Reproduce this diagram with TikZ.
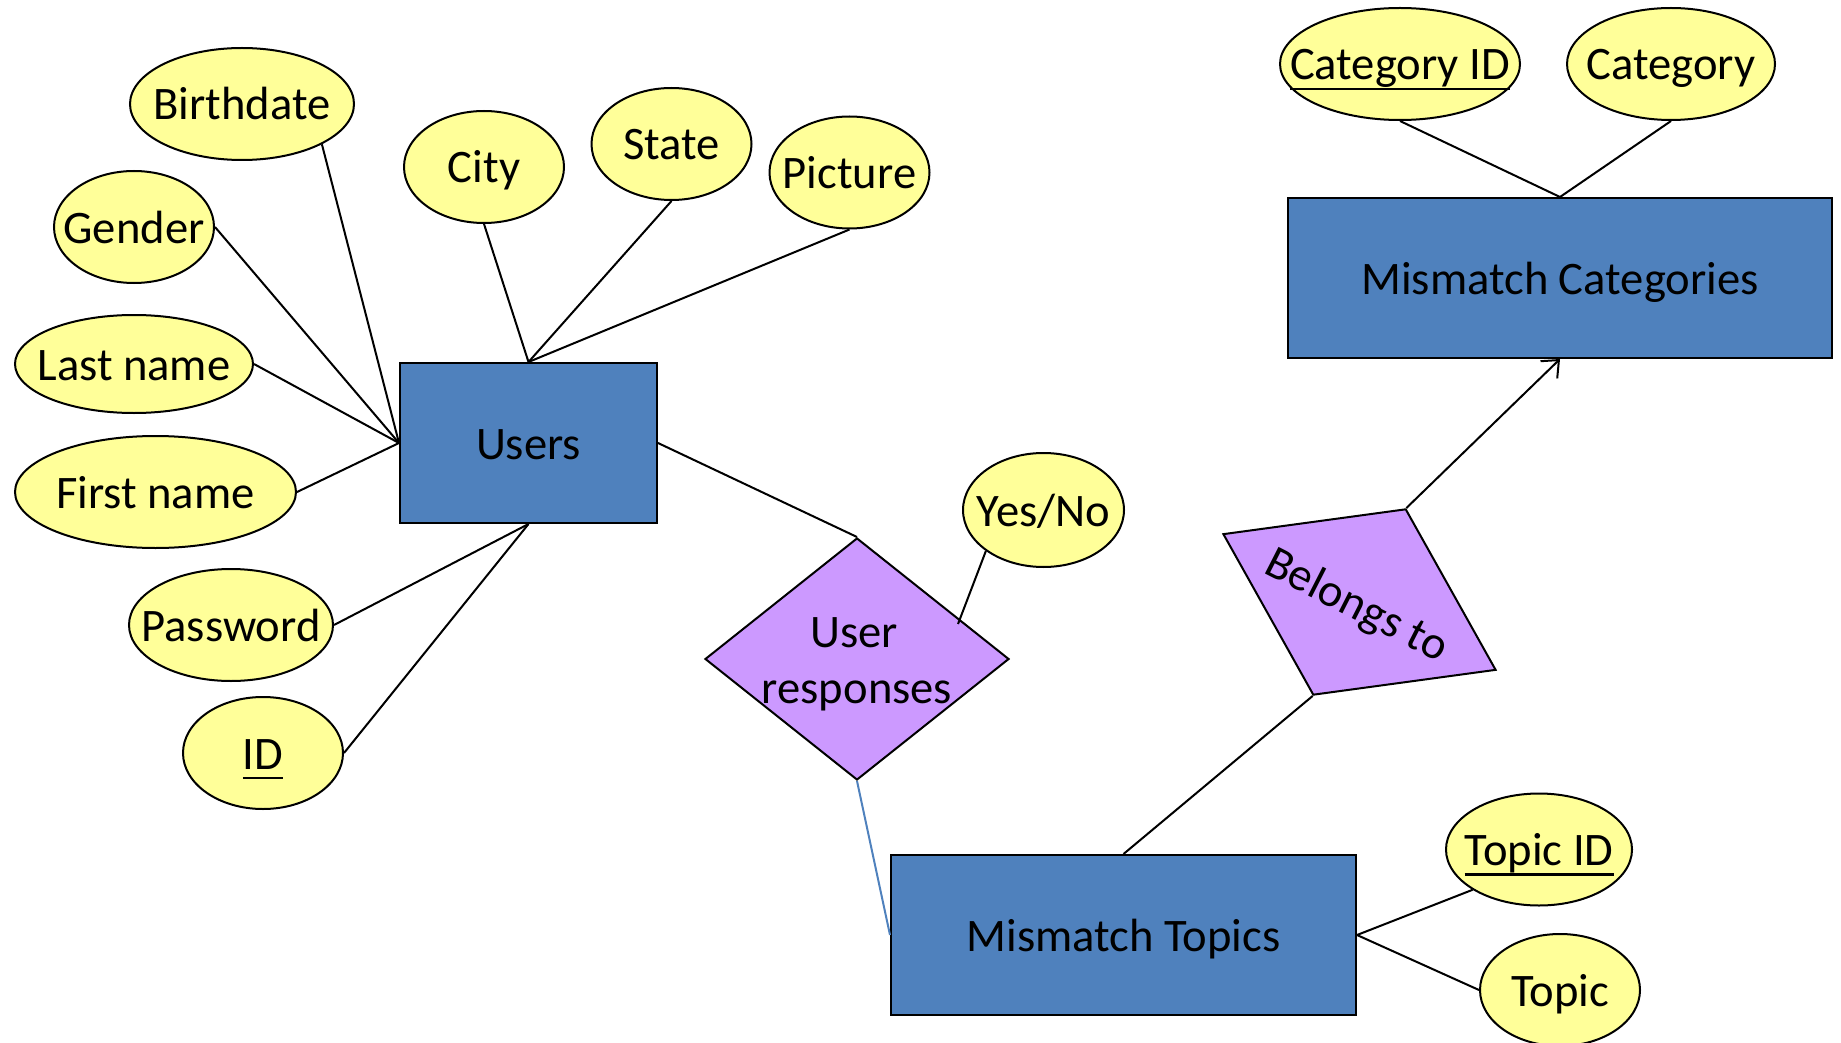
\documentclass[tikz,border=0pt]{standalone}
\usepackage{fontspec}
\setmainfont{Carlito}
\usetikzlibrary{shapes.geometric,arrows.meta}
\definecolor{entBlue}{HTML}{4F81BD}
\definecolor{attrYel}{HTML}{FFFF99}
\definecolor{relPur}{HTML}{CC99FF}
\newcommand{\ztx}[1]{\makebox[0pt]{#1}}
\newcommand{\uln}[1]{\setbox0\hbox{#1}\rlap{\rule[-5.2pt]{\wd0}{1.3pt}}\box0}
\begin{document}
\begin{tikzpicture}[x=0.5pt,y=-0.5pt,
  every node/.style={font=\fontsize{23.3}{28.3}\selectfont, inner sep=0pt, text height=16pt, text depth=0pt},
  attr/.style={ellipse, draw=black, fill=attrYel, line width=1pt},
  ent/.style={rectangle, draw=black, fill=entBlue, line width=1pt},
  rel/.style={diamond, draw=black, fill=relPur, line width=1pt},
  conn/.style={line width=1pt, draw=black},
  bluelink/.style={line width=1pt, draw=entBlue}
]
\useasboundingbox (0,0) rectangle (1841,1043);

% entities
\node[ent, minimum width=128.5pt, minimum height=80pt] (users) at (528.5,443) {Users};
\node[ent, minimum width=232.5pt, minimum height=80pt] (mt) at (1123.5,935) {Mismatch Topics};
\node[ent, minimum width=272pt, minimum height=80pt] (mc) at (1560,278) {Mismatch Categories};

% relationships
\node[rel, minimum width=152pt, minimum height=121pt] (ur) at (857,659) {};
\node[anchor=base] (urt1) at (854,647) {User};
\node[anchor=base] (urt2) at (857,703) {responses};
\node[rel, minimum width=152.5pt, minimum height=104pt, rotate=-26.5] (bel) at (1359.5,602) {};
\node[rotate=-27] (belt) at (1358,603) {Belongs to};

% attributes
\node[attr, minimum width=112pt, minimum height=56pt] (birth) at (242,104) {\ztx{Birthdate}};
\node[attr, minimum width=80pt, minimum height=56pt] (gender) at (134,227) {\ztx{Gender}};
\node[attr, minimum width=119pt, minimum height=49pt] (last) at (134,364) {\ztx{Last name}};
\node[attr, minimum width=140.5pt, minimum height=56pt] (first) at (155.5,492) {\ztx{First name}};
\node[attr, minimum width=102pt, minimum height=56pt] (pwd) at (231,625) {\ztx{Password}};
\node[attr, minimum width=80pt, minimum height=56pt] (id) at (263,753) {\ztx{\uln{ID}}};
\node[attr, minimum width=80pt, minimum height=56pt] (city) at (484,167) {\ztx{City}};
\node[attr, minimum width=80pt, minimum height=56pt] (state) at (671.5,144) {\ztx{State}};
\node[attr, minimum width=80pt, minimum height=56pt] (pic) at (849.5,172.5) {\ztx{Picture}};
\node[attr, minimum width=120pt, minimum height=56pt] (catid) at (1400,64) {\ztx{\uln{Category ID}}};
\node[attr, minimum width=104pt, minimum height=56pt] (cat) at (1671,64) {\ztx{Category}};
\node[attr, minimum width=93pt, minimum height=56pt] (topicid) at (1539,849.5) {\ztx{\uln{Topic ID}}};
\node[attr, minimum width=80pt, minimum height=56pt] (topic) at (1560,990) {\ztx{Topic}};
\node[attr, minimum width=80.5pt, minimum height=57pt] (yesno) at (1043.5,510) {\ztx{Yes/No}};

\coordinate (ynend) at (958,624);

% connectors
\draw[conn] (birth.south east) -- (users.west);
\draw[conn] (gender.east) -- (users.west);
\draw[conn] (last.east) -- (users.west);
\draw[conn] (first.east) -- (users.west);
\draw[conn] (pwd.east) -- (users.south);
\draw[conn] (id.east) -- (users.south);
\draw[conn] (city.south) -- (users.north);
\draw[conn] (state.south) -- (users.north);
\draw[conn] (pic.south) -- (users.north);
\draw[conn] (users.east) -- (ur.north);
\draw[bluelink] (ur.south) -- (mt.west);
\draw[conn] (yesno.south west) -- (ynend);
\draw[conn] (mt.north) -- (bel.south);
\draw[conn, -{Straight Barb[length=7pt,width=12pt]}] (bel.north) -- (mc.south);
\draw[conn] (catid.south) -- (mc.north);
\draw[conn] (cat.south) -- (mc.north);
\draw[conn] (topicid.south west) -- (mt.east);
\draw[conn] (topic.west) -- (mt.east);
\end{tikzpicture}
\end{document}
